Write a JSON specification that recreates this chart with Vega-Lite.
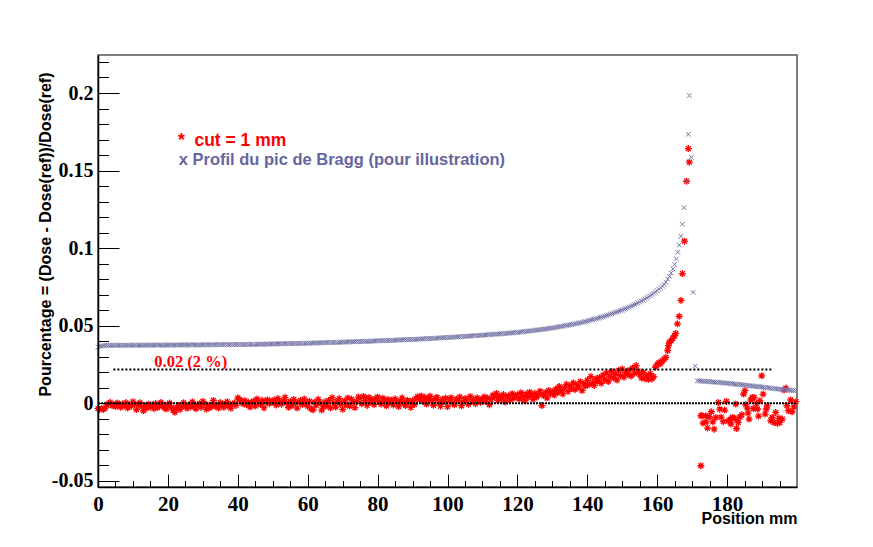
{
  "$schema": "https://vega.github.io/schema/vega-lite/v6.json",
  "width": 699,
  "height": 432,
  "autosize": {"type": "none"},
  "padding": {"left": 98, "top": 55, "right": 76, "bottom": 60},
  "background": "white",
  "config": {"view": {"stroke": "#555555", "strokeWidth": 1.5}},
  "datasets": {
    "red": [
      {"x":0,"y":-0.0035},{"x":0.5,"y":-0.0038},{"x":1,"y":-0.0036},{"x":1.5,"y":-0.0040},{"x":2,"y":-0.0033},{"x":2.5,"y":-0.0012},{"x":3,"y":-0.0004},{"x":3.5,"y":0.0006},{"x":4,"y":-0.0015},{"x":4.5,"y":-0.0008},
      {"x":5,"y":-0.0021},{"x":5.5,"y":0.0002},{"x":6,"y":-0.0010},{"x":6.5,"y":-0.0026},{"x":7,"y":-0.0005},{"x":7.5,"y":-0.0017},{"x":8,"y":0.0004},{"x":8.5,"y":-0.0030},{"x":9,"y":-0.0009},{"x":9.5,"y":-0.0019},
      {"x":10,"y":0.0010},{"x":10.5,"y":-0.0007},{"x":11,"y":-0.0041},{"x":11.5,"y":-0.0013},{"x":12,"y":0.0003},{"x":12.5,"y":-0.0022},{"x":13,"y":-0.0049},{"x":13.5,"y":-0.0016},{"x":14,"y":-0.0031},{"x":14.5,"y":-0.0006},
      {"x":15,"y":-0.0024},{"x":15.5,"y":-0.0011},{"x":16,"y":-0.0035},{"x":16.5,"y":-0.0002},{"x":17,"y":-0.0028},{"x":17.5,"y":-0.0018},{"x":18,"y":0.0005},{"x":18.5,"y":-0.0012},{"x":19,"y":-0.0029},{"x":19.5,"y":-0.0037},
      {"x":20,"y":-0.0008},{"x":20.5,"y":0.0001},{"x":21,"y":-0.0026},{"x":21.5,"y":-0.0045},{"x":22,"y":-0.0058},{"x":22.5,"y":-0.0031},{"x":23,"y":-0.0014},{"x":23.5,"y":-0.0040},{"x":24,"y":-0.0022},{"x":24.5,"y":0.0003},
      {"x":25,"y":-0.0017},{"x":25.5,"y":-0.0033},{"x":26,"y":-0.0009},{"x":26.5,"y":-0.0024},{"x":27,"y":0.0008},{"x":27.5,"y":-0.0019},{"x":28,"y":-0.0036},{"x":28.5,"y":-0.0011},{"x":29,"y":-0.0003},{"x":29.5,"y":-0.0027},
      {"x":30,"y":0.0012},{"x":30.5,"y":-0.0005},{"x":31,"y":-0.0038},{"x":31.5,"y":-0.0016},{"x":32,"y":-0.0029},{"x":32.5,"y":-0.0007},{"x":33,"y":0.0018},{"x":33.5,"y":-0.0021},{"x":34,"y":-0.0012},{"x":34.5,"y":-0.0030},
      {"x":35,"y":0.0004},{"x":35.5,"y":-0.0009},{"x":36,"y":-0.0026},{"x":36.5,"y":-0.0002},{"x":37,"y":0.0010},{"x":37.5,"y":-0.0018},{"x":38,"y":-0.0033},{"x":38.5,"y":-0.0006},{"x":39,"y":0.0001},{"x":39.5,"y":-0.0014},
      {"x":40,"y":0.0035},{"x":40.5,"y":0.0024},{"x":41,"y":0.0011},{"x":41.5,"y":-0.0004},{"x":42,"y":0.0016},{"x":42.5,"y":-0.0010},{"x":43,"y":0.0007},{"x":43.5,"y":-0.0025},{"x":44,"y":0.0002},{"x":44.5,"y":0.0013},
      {"x":45,"y":-0.0018},{"x":45.5,"y":0.0028},{"x":46,"y":0.0005},{"x":46.5,"y":-0.0008},{"x":47,"y":0.0019},{"x":47.5,"y":-0.0030},{"x":48,"y":0.0009},{"x":48.5,"y":0.0022},{"x":49,"y":-0.0003},{"x":49.5,"y":0.0014},
      {"x":50,"y":0.0006},{"x":50.5,"y":0.0021},{"x":51,"y":-0.0012},{"x":51.5,"y":0.0030},{"x":52,"y":0.0008},{"x":52.5,"y":-0.0006},{"x":53,"y":0.0015},{"x":53.5,"y":0.0038},{"x":54,"y":0.0003},{"x":54.5,"y":-0.0026},
      {"x":55,"y":0.0011},{"x":55.5,"y":-0.0015},{"x":56,"y":0.0024},{"x":56.5,"y":0.0004},{"x":57,"y":-0.0031},{"x":57.5,"y":0.0009},{"x":58,"y":0.0017},{"x":58.5,"y":-0.0008},{"x":59,"y":0.0027},{"x":59.5,"y":0.0001},
      {"x":60,"y":-0.0019},{"x":60.5,"y":0.0013},{"x":61,"y":-0.0036},{"x":61.5,"y":-0.0042},{"x":62,"y":0.0007},{"x":62.5,"y":-0.0012},{"x":63,"y":0.0025},{"x":63.5,"y":0.0004},{"x":64,"y":-0.0044},{"x":64.5,"y":-0.0021},
      {"x":65,"y":0.0009},{"x":65.5,"y":-0.0016},{"x":66,"y":0.0018},{"x":66.5,"y":-0.0030},{"x":67,"y":0.0036},{"x":67.5,"y":0.0002},{"x":68,"y":-0.0025},{"x":68.5,"y":0.0011},{"x":69,"y":0.0030},{"x":69.5,"y":-0.0007},
      {"x":70,"y":-0.0039},{"x":70.5,"y":0.0015},{"x":71,"y":-0.0010},{"x":71.5,"y":0.0034},{"x":72,"y":-0.0018},{"x":72.5,"y":0.0026},{"x":73,"y":0.0005},{"x":73.5,"y":-0.0028},{"x":74,"y":0.0012},{"x":74.5,"y":0.0040},
      {"x":75,"y":0.0031},{"x":75.5,"y":-0.0004},{"x":76,"y":0.0044},{"x":76.5,"y":0.0019},{"x":77,"y":-0.0014},{"x":77.5,"y":0.0037},{"x":78,"y":0.0008},{"x":78.5,"y":0.0023},{"x":79,"y":-0.0009},{"x":79.5,"y":0.0029},
      {"x":80,"y":0.0041},{"x":80.5,"y":0.0010},{"x":81,"y":-0.0006},{"x":81.5,"y":0.0032},{"x":82,"y":0.0015},{"x":82.5,"y":-0.0017},{"x":83,"y":0.0024},{"x":83.5,"y":0.0003},{"x":84,"y":0.0019},{"x":84.5,"y":-0.0011},
      {"x":85,"y":0.0028},{"x":85.5,"y":0.0006},{"x":86,"y":-0.0021},{"x":86.5,"y":0.0013},{"x":87,"y":0.0035},{"x":87.5,"y":0.0001},{"x":88,"y":-0.0015},{"x":88.5,"y":0.0020},{"x":89,"y":0.0009},{"x":89.5,"y":-0.0027},
      {"x":90,"y":0.0017},{"x":90.5,"y":-0.0008},{"x":91,"y":0.0031},{"x":91.5,"y":0.0042},{"x":92,"y":0.0024},{"x":92.5,"y":0.0047},{"x":93,"y":0.0012},{"x":93.5,"y":0.0038},{"x":94,"y":-0.0005},{"x":94.5,"y":0.0021},
      {"x":95,"y":0.0045},{"x":95.5,"y":0.0016},{"x":96,"y":-0.0013},{"x":96.5,"y":0.0029},{"x":97,"y":0.0039},{"x":97.5,"y":0.0007},{"x":98,"y":-0.0019},{"x":98.5,"y":0.0025},{"x":99,"y":0.0011},{"x":99.5,"y":0.0033},
      {"x":100,"y":-0.0022},{"x":100.5,"y":0.0014},{"x":101,"y":0.0036},{"x":101.5,"y":0.0003},{"x":102,"y":-0.0010},{"x":102.5,"y":0.0027},{"x":103,"y":0.0018},{"x":103.5,"y":0.0040},{"x":104,"y":-0.0016},{"x":104.5,"y":0.0009},
      {"x":105,"y":0.0031},{"x":105.5,"y":0.0022},{"x":106,"y":-0.0007},{"x":106.5,"y":0.0044},{"x":107,"y":0.0013},{"x":107.5,"y":0.0025},{"x":108,"y":-0.0003},{"x":108.5,"y":0.0035},{"x":109,"y":0.0019},{"x":109.5,"y":0.0006},
      {"x":110,"y":0.0028},{"x":110.5,"y":0.0041},{"x":111,"y":0.0011},{"x":111.5,"y":0.0034},{"x":112,"y":-0.0009},{"x":112.5,"y":0.0023},{"x":113,"y":0.0052},{"x":113.5,"y":0.0038},{"x":114,"y":0.0063},{"x":114.5,"y":0.0017},
      {"x":115,"y":0.0045},{"x":115.5,"y":0.0030},{"x":116,"y":0.0056},{"x":116.5,"y":0.0008},{"x":117,"y":0.0039},{"x":117.5,"y":0.0049},{"x":118,"y":0.0021},{"x":118.5,"y":0.0061},{"x":119,"y":0.0033},{"x":119.5,"y":0.0044},
      {"x":120,"y":0.0055},{"x":120.5,"y":0.0027},{"x":121,"y":0.0068},{"x":121.5,"y":0.0043},{"x":122,"y":0.0016},{"x":122.5,"y":0.0059},{"x":123,"y":0.0036},{"x":123.5,"y":0.0071},{"x":124,"y":0.0048},{"x":124.5,"y":0.0025},
      {"x":125,"y":0.0064},{"x":125.5,"y":0.0040},{"x":126,"y":0.0057},{"x":126.5,"y":0.0078},{"x":127,"y":-0.0015},{"x":127.5,"y":0.0050},{"x":128,"y":0.0069},{"x":128.5,"y":0.0033},{"x":129,"y":0.0082},{"x":129.5,"y":0.0061},
      {"x":130,"y":0.0074},{"x":130.5,"y":0.0052},{"x":131,"y":0.0091},{"x":131.5,"y":0.0067},{"x":132,"y":0.0108},{"x":132.5,"y":0.0083},{"x":133,"y":0.0060},{"x":133.5,"y":0.0099},{"x":134,"y":0.0122},{"x":134.5,"y":0.0076},
      {"x":135,"y":0.0113},{"x":135.5,"y":0.0094},{"x":136,"y":0.0131},{"x":136.5,"y":0.0088},{"x":137,"y":0.0118},{"x":137.5,"y":0.0105},{"x":138,"y":0.0139},{"x":138.5,"y":0.0082},{"x":139,"y":0.0127},{"x":139.5,"y":0.0111},
      {"x":140,"y":0.0148},{"x":140.5,"y":0.0120},{"x":141,"y":0.0172},{"x":141.5,"y":0.0135},{"x":142,"y":0.0115},{"x":142.5,"y":0.0158},{"x":143,"y":0.0142},{"x":143.5,"y":0.0166},{"x":144,"y":0.0129},{"x":144.5,"y":0.0181},
      {"x":145,"y":0.0153},{"x":145.5,"y":0.0196},{"x":146,"y":0.0140},{"x":146.5,"y":0.0174},{"x":147,"y":0.0205},{"x":147.5,"y":0.0162},{"x":148,"y":0.0187},{"x":148.5,"y":0.0150},{"x":149,"y":0.0211},{"x":149.5,"y":0.0178},
      {"x":150,"y":0.0220},{"x":150.5,"y":0.0168},{"x":151,"y":0.0199},{"x":151.5,"y":0.0186},{"x":152,"y":0.0213},{"x":152.5,"y":0.0175},{"x":153,"y":0.0228},{"x":153.5,"y":0.0192},{"x":154,"y":0.0243},{"x":154.5,"y":0.0207},
      {"x":155,"y":0.0184},{"x":155.5,"y":0.0163},{"x":156,"y":0.0198},{"x":156.5,"y":0.0158},{"x":157,"y":0.0176},{"x":157.5,"y":0.0154},{"x":158,"y":0.0190},{"x":158.5,"y":0.0157},{"x":159,"y":0.0172},{"x":159.5,"y":0.0232},
      {"x":160,"y":0.0250},{"x":160.5,"y":0.0262},{"x":161,"y":0.0255},{"x":161.5,"y":0.0274},{"x":162,"y":0.0285},{"x":162.5,"y":0.0296},{"x":163,"y":0.0340},{"x":163.2,"y":0.0372},{"x":163.5,"y":0.0394},{"x":164,"y":0.0403},
      {"x":164.5,"y":0.0418},{"x":164.9,"y":0.0435},{"x":165.3,"y":0.0450},{"x":165.8,"y":0.0512},{"x":166.3,"y":0.0560},{"x":166.8,"y":0.0663},{"x":167.2,"y":0.0836},{"x":167.8,"y":0.1045},{"x":168.4,"y":0.1431},{"x":168.9,"y":0.1642},
      {"x":169.2,"y":0.1554},
      {"x":172.5,"y":-0.0403},{"x":172.5,"y":-0.0081},{"x":172.8,"y":-0.0079},{"x":173.1,"y":-0.0128},{"x":173.9,"y":-0.0081},{"x":174.0,"y":-0.0120},{"x":174.4,"y":-0.0160},{"x":174.9,"y":-0.0087},{"x":175.5,"y":-0.0055},{"x":175.9,"y":-0.0120},
      {"x":176.3,"y":-0.0167},{"x":176.8,"y":-0.0092},{"x":177.5,"y":0.0005},{"x":177.9,"y":-0.0038},{"x":178.3,"y":-0.0090},{"x":178.9,"y":-0.0119},{"x":179.3,"y":-0.0044},{"x":179.8,"y":0.0012},{"x":180.4,"y":-0.0113},{"x":180.9,"y":-0.0104},
      {"x":181.1,"y":-0.0134},{"x":181.5,"y":-0.0092},{"x":182.0,"y":-0.0095},{"x":182.5,"y":-0.0005},{"x":182.7,"y":-0.0163},{"x":182.9,"y":-0.0112},{"x":183.2,"y":-0.0124},{"x":183.7,"y":-0.0088},{"x":184.2,"y":-0.0074},{"x":184.7,"y":0.0059},
      {"x":185.1,"y":0.0081},{"x":185.3,"y":-0.0008},{"x":185.8,"y":-0.0031},{"x":186.0,"y":-0.0064},{"x":186.3,"y":-0.0102},{"x":186.8,"y":0.0021},{"x":187.2,"y":0.0037},{"x":187.5,"y":-0.0034},{"x":187.7,"y":0.0037},{"x":188.4,"y":-0.0001},
      {"x":188.7,"y":-0.0037},{"x":189.0,"y":-0.0083},{"x":189.4,"y":0.0016},{"x":189.9,"y":0.0177},{"x":190.3,"y":0.0059},{"x":190.9,"y":-0.0070},{"x":191.2,"y":-0.0037},{"x":191.5,"y":-0.0016},{"x":192.5,"y":-0.0113},{"x":192.9,"y":-0.0092},
      {"x":193.4,"y":-0.0124},{"x":193.9,"y":-0.0059},{"x":194.4,"y":-0.0130},{"x":194.8,"y":-0.0097},{"x":195.1,"y":-0.0124},{"x":195.8,"y":-0.0102},{"x":196.3,"y":0.0085},{"x":196.8,"y":0.0098},{"x":197.1,"y":-0.0015},{"x":197.5,"y":-0.0048},
      {"x":198.2,"y":0.0021},{"x":198.6,"y":-0.0055},{"x":199.1,"y":-0.0023},{"x":199.7,"y":0.0010}
    ],
    "blue": [
      {"x":0,"y":0.0362},{"x":0.5,"y":0.0366},{"x":1,"y":0.0369},{"x":1.5,"y":0.0371},{"x":2,"y":0.0372},{"x":2.5,"y":0.0373},{"x":3,"y":0.0373},{"x":3.5,"y":0.0374},{"x":4,"y":0.0374},{"x":4.5,"y":0.0373},
      {"x":5,"y":0.0374},{"x":5.5,"y":0.0374},{"x":6,"y":0.0375},{"x":6.5,"y":0.0374},{"x":7,"y":0.0374},{"x":7.5,"y":0.0373},{"x":8,"y":0.0374},{"x":8.5,"y":0.0375},{"x":9,"y":0.0374},{"x":9.5,"y":0.0374},
      {"x":10,"y":0.0374},{"x":10.5,"y":0.0375},{"x":11,"y":0.0374},{"x":11.5,"y":0.0374},{"x":12,"y":0.0375},{"x":12.5,"y":0.0374},{"x":13,"y":0.0375},{"x":13.5,"y":0.0375},{"x":14,"y":0.0374},{"x":14.5,"y":0.0375},
      {"x":15,"y":0.0375},{"x":15.5,"y":0.0374},{"x":16,"y":0.0375},{"x":16.5,"y":0.0375},{"x":17,"y":0.0376},{"x":17.5,"y":0.0375},{"x":18,"y":0.0375},{"x":18.5,"y":0.0374},{"x":19,"y":0.0375},{"x":19.5,"y":0.0375},
      {"x":20,"y":0.0375},{"x":20.5,"y":0.0376},{"x":21,"y":0.0375},{"x":21.5,"y":0.0375},{"x":22,"y":0.0376},{"x":22.5,"y":0.0375},{"x":23,"y":0.0376},{"x":23.5,"y":0.0376},{"x":24,"y":0.0375},{"x":24.5,"y":0.0376},
      {"x":25,"y":0.0376},{"x":25.5,"y":0.0375},{"x":26,"y":0.0376},{"x":26.5,"y":0.0376},{"x":27,"y":0.0377},{"x":27.5,"y":0.0376},{"x":28,"y":0.0376},{"x":28.5,"y":0.0375},{"x":29,"y":0.0376},{"x":29.5,"y":0.0377},
      {"x":30,"y":0.0376},{"x":30.5,"y":0.0377},{"x":31,"y":0.0376},{"x":31.5,"y":0.0377},{"x":32,"y":0.0377},{"x":32.5,"y":0.0376},{"x":33,"y":0.0377},{"x":33.5,"y":0.0377},{"x":34,"y":0.0378},{"x":34.5,"y":0.0377},
      {"x":35,"y":0.0377},{"x":35.5,"y":0.0378},{"x":36,"y":0.0377},{"x":36.5,"y":0.0378},{"x":37,"y":0.0378},{"x":37.5,"y":0.0377},{"x":38,"y":0.0378},{"x":38.5,"y":0.0378},{"x":39,"y":0.0379},{"x":39.5,"y":0.0378},
      {"x":40,"y":0.0378},{"x":40.5,"y":0.0379},{"x":41,"y":0.0378},{"x":41.5,"y":0.0379},{"x":42,"y":0.0379},{"x":42.5,"y":0.0380},{"x":43,"y":0.0379},{"x":43.5,"y":0.0380},{"x":44,"y":0.0380},{"x":44.5,"y":0.0379},
      {"x":45,"y":0.0380},{"x":45.5,"y":0.0381},{"x":46,"y":0.0380},{"x":46.5,"y":0.0381},{"x":47,"y":0.0381},{"x":47.5,"y":0.0380},{"x":48,"y":0.0381},{"x":48.5,"y":0.0382},{"x":49,"y":0.0381},{"x":49.5,"y":0.0382},
      {"x":50,"y":0.0382},{"x":50.5,"y":0.0382},{"x":51,"y":0.0383},{"x":51.5,"y":0.0382},{"x":52,"y":0.0383},{"x":52.5,"y":0.0383},{"x":53,"y":0.0384},{"x":53.5,"y":0.0383},{"x":54,"y":0.0384},{"x":54.5,"y":0.0384},
      {"x":55,"y":0.0385},{"x":55.5,"y":0.0384},{"x":56,"y":0.0385},{"x":56.5,"y":0.0385},{"x":57,"y":0.0386},{"x":57.5,"y":0.0385},{"x":58,"y":0.0386},{"x":58.5,"y":0.0386},{"x":59,"y":0.0387},{"x":59.5,"y":0.0386},
      {"x":60,"y":0.0387},{"x":60.5,"y":0.0387},{"x":61,"y":0.0388},{"x":61.5,"y":0.0388},{"x":62,"y":0.0389},{"x":62.5,"y":0.0388},{"x":63,"y":0.0389},{"x":63.5,"y":0.0390},{"x":64,"y":0.0389},{"x":64.5,"y":0.0390},
      {"x":65,"y":0.0390},{"x":65.5,"y":0.0391},{"x":66,"y":0.0391},{"x":66.5,"y":0.0392},{"x":67,"y":0.0391},{"x":67.5,"y":0.0392},{"x":68,"y":0.0393},{"x":68.5,"y":0.0392},{"x":69,"y":0.0393},{"x":69.5,"y":0.0394},
      {"x":70,"y":0.0394},{"x":70.5,"y":0.0394},{"x":71,"y":0.0395},{"x":71.5,"y":0.0395},{"x":72,"y":0.0396},{"x":72.5,"y":0.0395},{"x":73,"y":0.0396},{"x":73.5,"y":0.0397},{"x":74,"y":0.0397},{"x":74.5,"y":0.0398},
      {"x":75,"y":0.0397},{"x":75.5,"y":0.0398},{"x":76,"y":0.0399},{"x":76.5,"y":0.0399},{"x":77,"y":0.0400},{"x":77.5,"y":0.0399},{"x":78,"y":0.0400},{"x":78.5,"y":0.0401},{"x":79,"y":0.0401},{"x":79.5,"y":0.0402},
      {"x":80,"y":0.0402},{"x":80.5,"y":0.0403},{"x":81,"y":0.0403},{"x":81.5,"y":0.0404},{"x":82,"y":0.0403},{"x":82.5,"y":0.0404},{"x":83,"y":0.0405},{"x":83.5,"y":0.0405},{"x":84,"y":0.0406},{"x":84.5,"y":0.0406},
      {"x":85,"y":0.0407},{"x":85.5,"y":0.0407},{"x":86,"y":0.0408},{"x":86.5,"y":0.0408},{"x":87,"y":0.0409},{"x":87.5,"y":0.0409},{"x":88,"y":0.0410},{"x":88.5,"y":0.0410},{"x":89,"y":0.0411},{"x":89.5,"y":0.0411},
      {"x":90,"y":0.0412},{"x":90.5,"y":0.0412},{"x":91,"y":0.0413},{"x":91.5,"y":0.0413},{"x":92,"y":0.0414},{"x":92.5,"y":0.0414},{"x":93,"y":0.0415},{"x":93.5,"y":0.0416},{"x":94,"y":0.0416},{"x":94.5,"y":0.0417},
      {"x":95,"y":0.0417},{"x":95.5,"y":0.0418},{"x":96,"y":0.0419},{"x":96.5,"y":0.0419},{"x":97,"y":0.0420},{"x":97.5,"y":0.0421},{"x":98,"y":0.0421},{"x":98.5,"y":0.0422},{"x":99,"y":0.0423},{"x":99.5,"y":0.0423},
      {"x":100,"y":0.0424},{"x":100.5,"y":0.0425},{"x":101,"y":0.0425},{"x":101.5,"y":0.0426},{"x":102,"y":0.0427},{"x":102.5,"y":0.0427},{"x":103,"y":0.0428},{"x":103.5,"y":0.0429},{"x":104,"y":0.0430},{"x":104.5,"y":0.0430},
      {"x":105,"y":0.0431},{"x":105.5,"y":0.0432},{"x":106,"y":0.0433},{"x":106.5,"y":0.0433},{"x":107,"y":0.0434},{"x":107.5,"y":0.0435},{"x":108,"y":0.0436},{"x":108.5,"y":0.0436},{"x":109,"y":0.0437},{"x":109.5,"y":0.0438},
      {"x":110,"y":0.0439},{"x":110.5,"y":0.0440},{"x":111,"y":0.0440},{"x":111.5,"y":0.0441},{"x":112,"y":0.0442},{"x":112.5,"y":0.0443},{"x":113,"y":0.0444},{"x":113.5,"y":0.0445},{"x":114,"y":0.0446},{"x":114.5,"y":0.0446},
      {"x":115,"y":0.0447},{"x":115.5,"y":0.0448},{"x":116,"y":0.0449},{"x":116.5,"y":0.0450},{"x":117,"y":0.0451},{"x":117.5,"y":0.0452},{"x":118,"y":0.0453},{"x":118.5,"y":0.0454},{"x":119,"y":0.0455},{"x":119.5,"y":0.0456},
      {"x":120,"y":0.0457},{"x":120.5,"y":0.0458},{"x":121,"y":0.0459},{"x":121.5,"y":0.0461},{"x":122,"y":0.0462},{"x":122.5,"y":0.0463},{"x":123,"y":0.0464},{"x":123.5,"y":0.0466},{"x":124,"y":0.0467},{"x":124.5,"y":0.0468},
      {"x":125,"y":0.0470},{"x":125.5,"y":0.0471},{"x":126,"y":0.0473},{"x":126.5,"y":0.0474},{"x":127,"y":0.0476},{"x":127.5,"y":0.0477},{"x":128,"y":0.0479},{"x":128.5,"y":0.0480},{"x":129,"y":0.0482},{"x":129.5,"y":0.0484},
      {"x":130,"y":0.0485},{"x":130.5,"y":0.0487},{"x":131,"y":0.0489},{"x":131.5,"y":0.0491},{"x":132,"y":0.0493},{"x":132.5,"y":0.0495},{"x":133,"y":0.0497},{"x":133.5,"y":0.0499},{"x":134,"y":0.0501},{"x":134.5,"y":0.0503},
      {"x":135,"y":0.0505},{"x":135.5,"y":0.0507},{"x":136,"y":0.0509},{"x":136.5,"y":0.0512},{"x":137,"y":0.0514},{"x":137.5,"y":0.0516},{"x":138,"y":0.0519},{"x":138.5,"y":0.0521},{"x":139,"y":0.0524},{"x":139.5,"y":0.0527},
      {"x":140,"y":0.0530},{"x":140.5,"y":0.0533},{"x":141,"y":0.0536},{"x":141.5,"y":0.0539},{"x":142,"y":0.0542},{"x":142.5,"y":0.0545},{"x":143,"y":0.0548},{"x":143.5,"y":0.0551},{"x":144,"y":0.0555},{"x":144.5,"y":0.0558},
      {"x":145,"y":0.0562},{"x":145.5,"y":0.0565},{"x":146,"y":0.0569},{"x":146.5,"y":0.0573},{"x":147,"y":0.0577},{"x":147.5,"y":0.0581},{"x":148,"y":0.0585},{"x":148.5,"y":0.0589},{"x":149,"y":0.0593},{"x":149.5,"y":0.0597},
      {"x":150,"y":0.0601},{"x":150.5,"y":0.0606},{"x":151,"y":0.0610},{"x":151.5,"y":0.0615},{"x":152,"y":0.0620},{"x":152.5,"y":0.0625},{"x":153,"y":0.0630},{"x":153.5,"y":0.0636},{"x":154,"y":0.0641},{"x":154.5,"y":0.0647},
      {"x":155,"y":0.0653},{"x":155.5,"y":0.0659},{"x":156,"y":0.0665},{"x":156.5,"y":0.0672},{"x":157,"y":0.0679},{"x":157.5,"y":0.0686},{"x":158,"y":0.0693},{"x":158.5,"y":0.0701},{"x":159,"y":0.0709},{"x":159.5,"y":0.0717},
      {"x":160,"y":0.0726},{"x":160.5,"y":0.0735},{"x":161,"y":0.0745},{"x":161.5,"y":0.0755},{"x":162,"y":0.0766},{"x":162.5,"y":0.0780},{"x":163,"y":0.0800},{"x":163.5,"y":0.0818},{"x":164,"y":0.0840},{"x":164.5,"y":0.0866},
      {"x":165,"y":0.0895},{"x":165.5,"y":0.0930},{"x":165.9,"y":0.0973},{"x":166.3,"y":0.1020},{"x":166.8,"y":0.1076},{"x":167.2,"y":0.1154},{"x":167.7,"y":0.1261},{"x":168.4,"y":0.1431},{"x":168.9,"y":0.1734},{"x":169.2,"y":0.1984},
      {"x":169.8,"y":0.1586},{"x":170.3,"y":0.0715},{"x":170.9,"y":0.0240},
      {"x":171.5,"y":0.0145},{"x":172,"y":0.0144},{"x":172.5,"y":0.0143},{"x":173,"y":0.0143},{"x":173.5,"y":0.0141},{"x":174,"y":0.0141},{"x":174.5,"y":0.0140},{"x":175,"y":0.0139},{"x":175.5,"y":0.0138},{"x":176,"y":0.0137},
      {"x":176.5,"y":0.0136},{"x":177,"y":0.0135},{"x":177.5,"y":0.0135},{"x":178,"y":0.0133},{"x":178.5,"y":0.0132},{"x":179,"y":0.0131},{"x":179.5,"y":0.0130},{"x":180,"y":0.0129},{"x":180.5,"y":0.0128},{"x":181,"y":0.0127},
      {"x":181.5,"y":0.0125},{"x":182,"y":0.0124},{"x":182.5,"y":0.0123},{"x":183,"y":0.0122},{"x":183.5,"y":0.0121},{"x":184,"y":0.0119},{"x":184.5,"y":0.0118},{"x":185,"y":0.0117},{"x":185.5,"y":0.0116},{"x":186,"y":0.0114},
      {"x":186.5,"y":0.0113},{"x":187,"y":0.0112},{"x":187.5,"y":0.0110},{"x":188,"y":0.0109},{"x":188.5,"y":0.0108},{"x":189,"y":0.0107},{"x":189.5,"y":0.0105},{"x":190,"y":0.0104},{"x":190.5,"y":0.0103},{"x":191,"y":0.0101},
      {"x":191.5,"y":0.0100},{"x":192,"y":0.0099},{"x":192.5,"y":0.0097},{"x":193,"y":0.0096},{"x":193.5,"y":0.0095},{"x":194,"y":0.0093},{"x":194.5,"y":0.0092},{"x":195,"y":0.0091},{"x":195.5,"y":0.0089},{"x":196,"y":0.0088},
      {"x":196.5,"y":0.0087},{"x":197,"y":0.0086},{"x":197.5,"y":0.0085},{"x":198,"y":0.0084},{"x":198.5,"y":0.0083},{"x":199,"y":0.0082},{"x":199.5,"y":0.0081}
    ]
  },
  "encoding": {
    "x": {
      "field": "x", "type": "quantitative",
      "scale": {"domain": [0, 200], "nice": false, "zero": false},
      "axis": {
        "values": [0,5,10,15,20,25,30,35,40,45,50,55,60,65,70,75,80,85,90,95,100,105,110,115,120,125,130,135,140,145,150,155,160,165,170,175,180,185,190,195],
        "labelExpr": "datum.value % 20 === 0 ? datum.label : ''",
        "tickSize": {"condition": {"test": "datum.value % 20 === 0", "value": -13}, "value": -6.5},
        "labelPadding": 19,
        "labelFont": "Liberation Serif", "labelFontWeight": "bold", "labelFontSize": 21, "labelColor": "#000000",
        "labelOverlap": false, "labelFlush": false, "labelBound": false,
        "tickColor": "#000000", "tickWidth": 1, "domainColor": "#000000", "domainWidth": 1.5,
        "grid": false, "zindex": 1,
        "title": "Position mm", "titleFont": "Liberation Sans", "titleFontWeight": "bold", "titleFontSize": 16, "titleColor": "#000000",
        "titleAnchor": "end", "titleAlign": "right", "titleBaseline": "alphabetic", "titleX": 699, "titleY": 36
      }
    },
    "y": {
      "field": "y", "type": "quantitative",
      "scale": {"domain": [-0.054, 0.2245], "nice": false, "zero": false},
      "axis": {
        "values": [-0.05,-0.04,-0.03,-0.02,-0.01,0,0.01,0.02,0.03,0.04,0.05,0.06,0.07,0.08,0.09,0.1,0.11,0.12,0.13,0.14,0.15,0.16,0.17,0.18,0.19,0.2,0.21,0.22],
        "labelExpr": "abs(datum.value*20 - round(datum.value*20)) < 0.001 ? replace(format(datum.value, '.2~f'), '\u2212', '-') : ''",
        "tickSize": {"condition": {"test": "abs(datum.value*20 - round(datum.value*20)) < 0.001", "value": -21}, "value": -10.5},
        "labelPadding": 26,
        "labelFont": "Liberation Serif", "labelFontWeight": "bold", "labelFontSize": 20, "labelColor": "#000000",
        "labelOverlap": false, "labelFlush": false, "labelBound": false,
        "tickColor": "#000000", "tickWidth": 1, "domainColor": "#000000", "domainWidth": 1.5,
        "grid": false, "zindex": 1,
        "title": "Pourcentage = (Dose - Dose(ref))/Dose(ref)", "titleFont": "Liberation Sans", "titleFontWeight": "bold", "titleFontSize": 16, "titleColor": "#000000",
        "titleAngle": 270, "titleAlign": "right", "titleBaseline": "middle", "titleX": -53, "titleY": 17
      }
    }
  },
  "layer": [
    {
      "data": {"name": "red"},
      "mark": {"type": "point", "shape": "M-1,0L1,0M0,-1L0,1M-0.7,-0.7L0.7,0.7M-0.7,0.7L0.7,-0.7", "size": 49, "filled": false, "color": "#ff0000", "strokeWidth": 1.3, "opacity": 1}
    },
    {
      "data": {"name": "blue"},
      "mark": {"type": "point", "shape": "M-1,-1L1,1M-1,1L1,-1", "size": 22, "filled": false, "color": "#7777aa", "strokeWidth": 1, "opacity": 1}
    },
    {
      "data": {"values": [{"x": 0, "x2": 200, "y": 0}]},
      "mark": {"type": "rule", "color": "#000000", "strokeWidth": 2, "strokeDash": [2, 1]},
      "encoding": {"x2": {"field": "x2"}}
    },
    {
      "data": {"values": [{"x": 4.4, "x2": 193, "y": 0.0217}]},
      "mark": {"type": "rule", "color": "#000000", "strokeWidth": 2, "strokeDash": [2, 2]},
      "encoding": {"x2": {"field": "x2"}}
    },
    {
      "data": {"values": [{"x": 16.1, "y": 0.0231, "t": "0.02 (2 %)"}]},
      "mark": {"type": "text", "align": "left", "baseline": "alphabetic", "font": "Liberation Serif", "fontWeight": "bold", "fontSize": 16.5, "color": "#ff0000"},
      "encoding": {"text": {"field": "t"}}
    },
    {
      "data": {"values": [{"x": 22.86, "y": 0.1658, "t": "*\u00a0 cut = 1 mm"}]},
      "mark": {"type": "text", "align": "left", "baseline": "alphabetic", "font": "Liberation Sans", "fontWeight": "bold", "fontSize": 17.5, "color": "#ff0000"},
      "encoding": {"text": {"field": "t"}}
    },
    {
      "data": {"values": [{"x": 23.1, "y": 0.1536, "t": "x Profil du pic de Bragg (pour illustration)"}]},
      "mark": {"type": "text", "align": "left", "baseline": "alphabetic", "font": "Liberation Sans", "fontWeight": "bold", "fontSize": 16.5, "color": "#66669e"},
      "encoding": {"text": {"field": "t"}}
    }
  ]
}
